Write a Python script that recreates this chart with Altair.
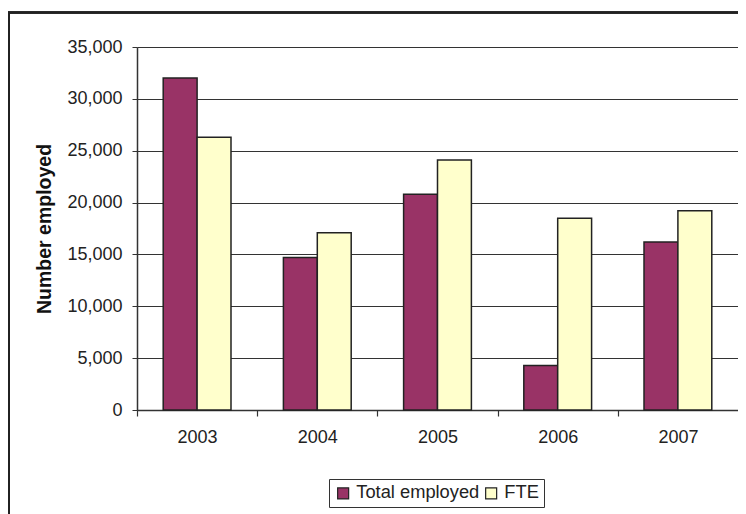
import altair as alt
import pandas as pd

years = ["2003", "2004", "2005", "2006", "2007"]
total_employed = [32000, 14700, 20800, 4300, 16200]
fte = [26300, 17100, 24100, 18500, 19200]
series = ["Total employed", "FTE"]
colors = ["#993366", "#FFFFCC"]

rows = []
for i, y in enumerate(years):
    rows.append({"year": y, "series": series[0], "value": total_employed[i]})
    rows.append({"year": y, "series": series[1], "value": fte[i]})
df = pd.DataFrame(rows)

FONT = "Liberation Sans"
W, H = 601, 363
STEP = W / len(years)

bars = alt.Chart(df).mark_bar(stroke="#222222", strokeWidth=1.5).encode(
    x=alt.X("year:N", sort=years, title=None,
            scale=alt.Scale(paddingInner=0.436, paddingOuter=0.218),
            axis=alt.Axis(labelAngle=0, tickOffset=-STEP / 2, labelOffset=STEP / 2,
                          tickSize=6, labelPadding=12, labelFontSize=18,
                          labelColor="#222222", labelFont=FONT,
                          domainColor="#333333", tickColor="#333333",
                          domainWidth=1.5, tickWidth=1.2, grid=False)),
    xOffset=alt.XOffset("series:N", sort=series),
    y=alt.Y("value:Q", title="Number employed",
            scale=alt.Scale(domain=[0, 35000], nice=False),
            axis=alt.Axis(values=list(range(0, 35001, 5000)), format=",d",
                          tickSize=5, labelPadding=10, labelFontSize=18,
                          labelColor="#222222", labelFont=FONT,
                          titleFont=FONT, titleFontSize=19.5, titleFontWeight="bold",
                          titleColor="#111111", titlePadding=12,
                          domainColor="#333333", domainWidth=1.5, tickColor="#333333",
                          gridColor="#333333", gridWidth=1)),
    color=alt.Color("series:N", sort=series,
                    scale=alt.Scale(domain=series, range=colors),
                    legend=alt.Legend(title=None, orient="none", direction="horizontal",
                                      legendX=192, legendY=432,
                                      symbolType="square", symbolSize=121,
                                      symbolStrokeColor="#222222", symbolStrokeWidth=1.2,
                                      labelFontSize=18.3, labelFont=FONT, labelColor="#222222",
                                      strokeColor="#333333", padding=5,
                                      columnPadding=2, labelOffset=4)),
)

frame = alt.Chart(df).mark_rect(fill=None, stroke="#222222", strokeWidth=1.5).encode(
    x=alt.value(-128.3), x2=alt.value(640), y=alt.value(-34.5), y2=alt.value(520)
)

chart = alt.layer(frame, bars).properties(
    width=W, height=H,
    autosize=alt.AutoSizeParams(type="none"),
    padding={"left": 129, "top": 39, "right": 0, "bottom": 104},
).configure_view(stroke="#333333", strokeWidth=1.5).configure(background="white")

chart.save("out.html", embed_options={"renderer": "svg", "actions": False})
